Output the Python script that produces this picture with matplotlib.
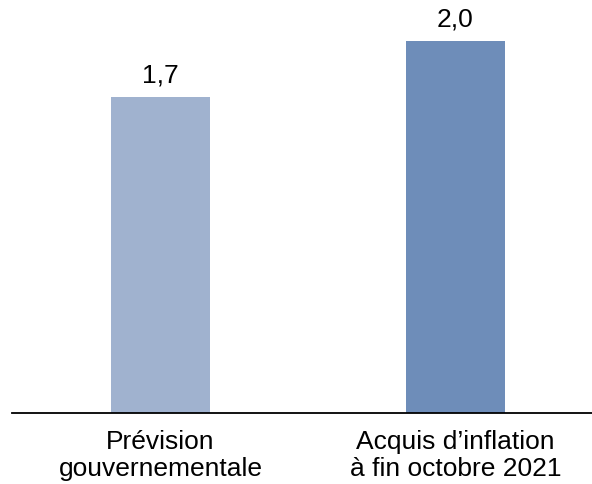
import matplotlib.pyplot as plt

plt.rcParams['font.family'] = ['Liberation Sans', 'DejaVu Sans']

categories = ["Prévision\ngouvernementale", "Acquis d\u2019inflation\nà fin octobre 2021"]
values = [1.7, 2.0]
value_labels = ["1,7", "2,0"]
colors = ["#A0B2CF", "#6E8DB9"]

fig = plt.figure(figsize=(5.92, 4.84), dpi=100)
ax = fig.add_axes([12 / 592, (484 - 413) / 484, 1 - 12 / 592, 413 / 484])

x = range(len(categories))
bars = ax.bar(x, values, width=0.336, color=colors)

# étiquettes de valeur au-dessus des barres
for b, lab in zip(bars, value_labels):
    ax.annotate(lab, (b.get_x() + b.get_width() / 2, b.get_height()),
                xytext=(0, 7), textcoords="offset points",
                ha="center", va="bottom", fontsize=19)

ax.set_xlim(-0.503, 1.463)
ax.set_ylim(0, 2.22)
ax.set_xticks(list(x))
ax.set_xticklabels(categories, fontsize=19, linespacing=1.17)
ax.tick_params(axis="x", length=0, pad=12)
ax.set_yticks([])

for side in ["top", "right", "left"]:
    ax.spines[side].set_visible(False)
ax.spines["bottom"].set_linewidth(1.3)
ax.spines["bottom"].set_color("black")

fig.savefig("out.png", dpi=100)
